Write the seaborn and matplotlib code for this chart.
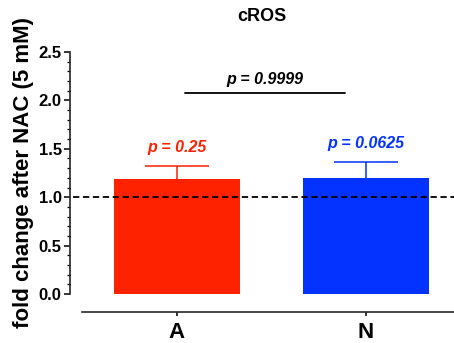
import matplotlib
matplotlib.use("Agg")
import matplotlib.pyplot as plt
from matplotlib.ticker import MultipleLocator
import seaborn as sns
import pandas as pd
import numpy as np

# Data
groups = ["A", "N"]
fold_change = [1.19, 1.20]
upper_err = [0.13, 0.16]
p_vs_one = ["p = 0.25", "p = 0.0625"]
p_between = "p = 0.9999"
bar_colors = ["#FF2200", "#0433FF"]
y_ticks = [0.0, 0.5, 1.0, 1.5, 2.0, 2.5]

sns.set_theme(style="ticks")
plt.rcParams["font.family"] = ["Liberation Sans", "DejaVu Sans"]
plt.rcParams["font.weight"] = "bold"

fig = plt.figure(figsize=(4.54, 3.43), dpi=100)
W, H = 454, 343
ax = fig.add_axes([70 / W, (H - 294) / H, (454 - 70) / W, (294 - 52) / H])

df = pd.DataFrame({"group": groups, "value": fold_change})
sns.barplot(data=df, x="group", y="value", hue="group", palette=bar_colors,
            width=0.667, errorbar=None, legend=False, ax=ax, saturation=1,
            linewidth=0)

# Upper-only error bars (stem + cap) in the bar colours
cap_half = 0.17
for i, (v, e, c) in enumerate(zip(fold_change, upper_err, bar_colors)):
    ax.vlines(i, v, v + e, color=c, linewidth=1.1, zorder=1)
    ax.hlines(v + e, i - cap_half, i + cap_half, color=c, linewidth=1.1, zorder=1)
    ax.annotate(p_vs_one[i], xy=(i, v + e), xytext=(0, 8),
                textcoords="offset points", ha="center", va="bottom",
                color=c, fontsize=11.5, fontweight="bold", fontstyle="italic")

# Reference line at 1.0
ax.axhline(1.0, xmin=0.008, xmax=1, color="black", linestyle=(0, (3.5, 2)),
           linewidth=1.3, zorder=3)

# Comparison between groups
ax.plot([0.04, 0.89], [2.08, 2.08], color="black", linewidth=1.3)
ax.annotate(p_between, xy=(0.465, 2.08), xytext=(0, 4),
            textcoords="offset points", ha="center", va="bottom",
            color="black", fontsize=11.5, fontweight="bold", fontstyle="italic")

ax.set_xlim(-0.566, 1.466)
ax.set_ylim(0, 2.5)
ax.yaxis.set_minor_locator(MultipleLocator(0.1))
ax.set_yticks(y_ticks)
ax.set_yticklabels([f"{t:.1f}" for t in y_ticks])
ax.set_xticks([0, 1])
ax.set_xticklabels(groups)

sns.despine(ax=ax)
ax.spines["left"].set_bounds(0, 2.5)
ax.spines["left"].set_linewidth(1.2)
ax.spines["bottom"].set_position(("outward", 13))
ax.spines["bottom"].set_bounds(-0.5, 1.466)
ax.spines["bottom"].set_linewidth(1.2)
ax.tick_params(axis="y", which="major", length=4, width=1.1, pad=2,
               color="black", labelcolor="black", labelsize=12)
ax.tick_params(axis="y", which="minor", length=2.5, width=0.9, color="black")
ax.tick_params(axis="x", length=3, width=1.1, pad=4, color="black",
               labelcolor="black", labelsize=16)
for lbl in ax.get_xticklabels() + ax.get_yticklabels():
    lbl.set_fontweight("bold")

ax.set_xlabel("")
ax.set_ylabel("fold change after NAC (5 mM)", fontsize=16, fontweight="bold",
              color="black", labelpad=3)
ax.set_title("cROS", fontsize=13, fontweight="bold", color="black", pad=22)

fig.savefig("out.png", dpi=100)
